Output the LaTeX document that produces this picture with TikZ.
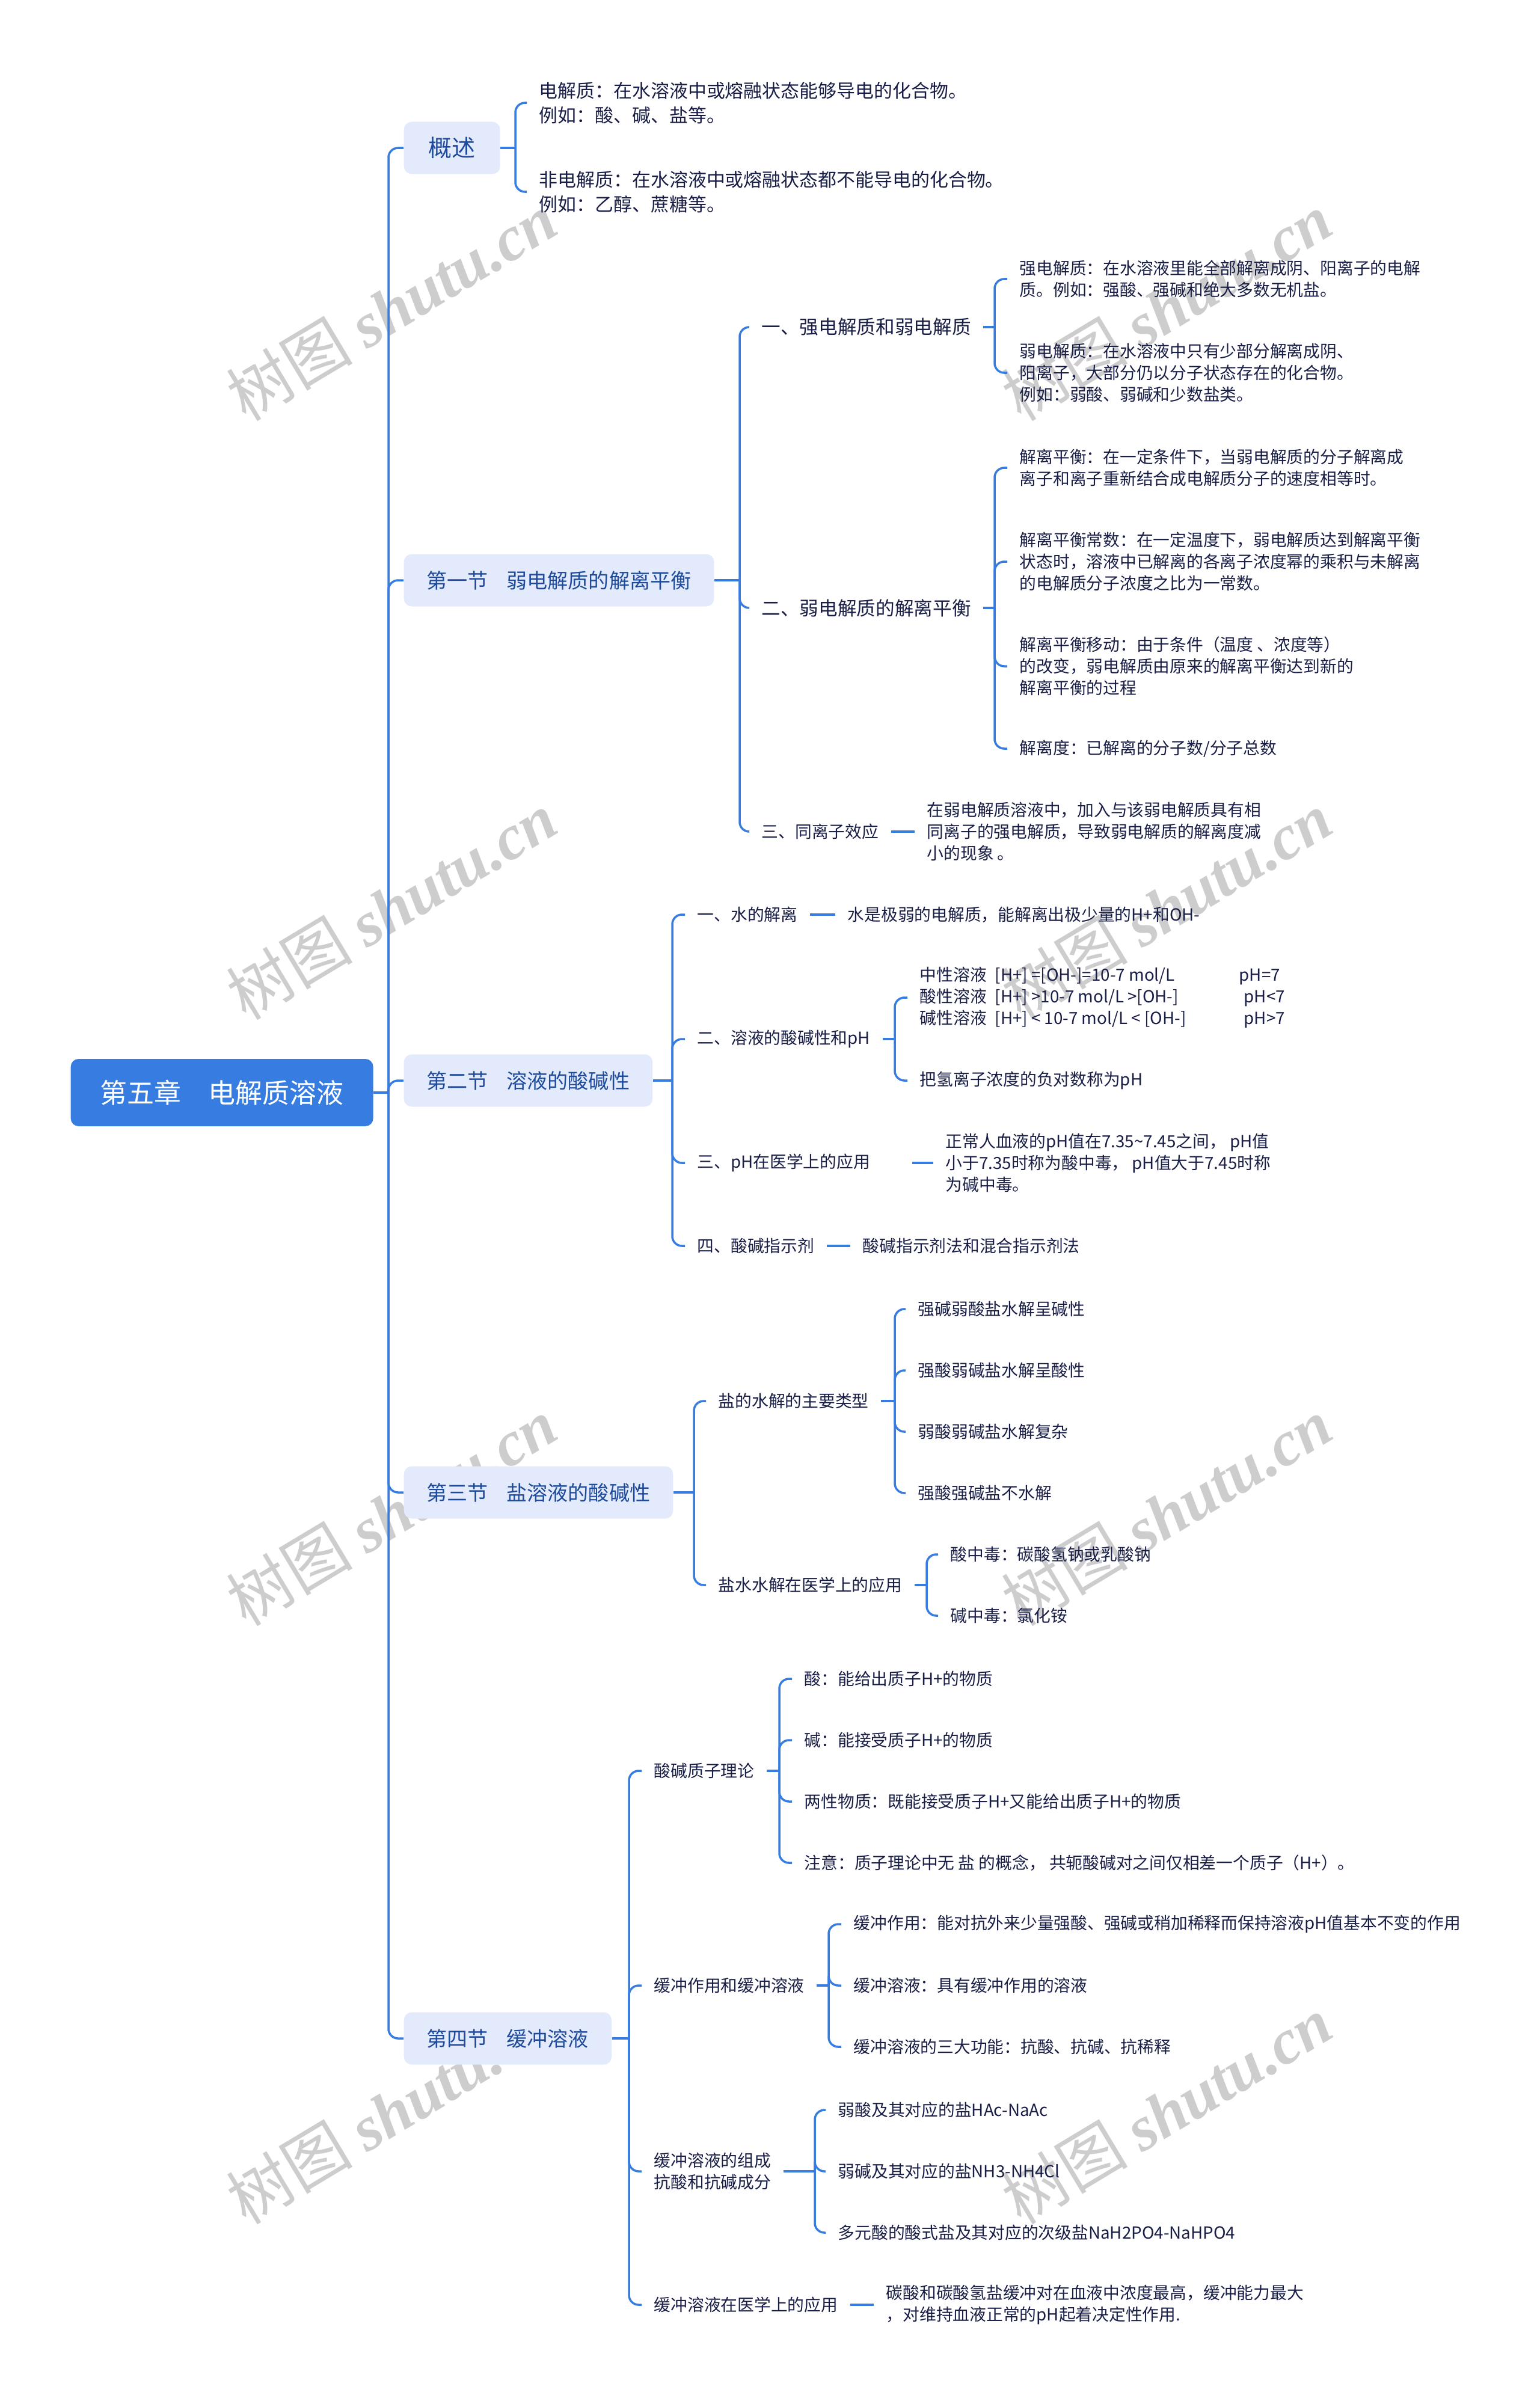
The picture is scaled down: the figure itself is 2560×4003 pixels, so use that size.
\documentclass[tikz,border=0pt]{standalone}
\usepackage{fontspec}
\setmainfont{Noto Sans CJK SC}
\newfontfamily\markfont{Liberation Serif}
\definecolor{lineblue}{RGB}{55,125,225}
\definecolor{rootblue}{RGB}{55,125,225}
\definecolor{sectfill}{RGB}{227,234,251}
\definecolor{secttext}{RGB}{30,75,155}
\definecolor{leaftext}{RGB}{25,30,70}
\definecolor{markgray}{RGB}{205,205,205}

\begin{document}
\begin{tikzpicture}[x=0.1mm,y=-0.1mm]
  \tikzstyle{link}=[draw=lineblue, line width=1pt, rounded corners=1.6mm]
  \tikzstyle{rootbox}=[fill=rootblue, text=white, rounded corners=1.3mm, anchor=west, inner xsep=4.9mm, minimum height=11.2mm, font=\fontsize{12.8}{15}\selectfont]
  \tikzstyle{sect}=[fill=sectfill, text=secttext, rounded corners=1.3mm, anchor=west, inner xsep=3.8mm, minimum height=8.7mm, font=\fontsize{9.7}{12}\selectfont]
  \tikzstyle{leaf}=[anchor=west, inner xsep=2mm, inner ysep=1mm, align=left, text=leaftext, font=\fontsize{7.9}{10.2}\selectfont]
  \tikzstyle{wmark}=[text=markgray, rotate=31, inner sep=0pt, font=\fontsize{30}{30}\selectfont]

  \fill[white] (0,0) rectangle (2560,4003);
  \useasboundingbox (0,0) rectangle (2560,4003);

  % watermark
  \foreach \x in {651,1940}
    \foreach \y in {510,1506,2514,3509}
      \node[wmark] (wm-\x-\y) at (\x,\y) {树图 {\markfont\bfseries\itshape shutu.cn}};

  \node[rootbox] (root) at (117,1817) {第五章\quad 电解质溶液};

  \node[sect, minimum width=16mm, font=\fontsize{11.1}{13}\selectfont] (s0) at (671,246) {概述};
  \node[sect] (s1) at (671,965) {第一节\hspace{0.9em}弱电解质的解离平衡};
  \node[sect] (s2) at (671,1797) {第二节\hspace{0.9em}溶液的酸碱性};
  \node[sect] (s3) at (671,2482) {第三节\hspace{0.9em}盐溶液的酸碱性};
  \node[sect] (s4) at (671,3390) {第四节\hspace{0.9em}缓冲溶液};

  \coordinate (rootj) at (646,1817);
  \draw[link] (root.east) -- (rootj);
  \foreach \s in {s0,s1,s2,s3,s4}
    \draw[link] (rootj) |- (\s.west);

  % 概述
  \node[leaf, font=\fontsize{8.8}{11.7}\selectfont] (l01) at (876,171) {电解质：在水溶液中或熔融状态能够导电的化合物。\\例如：酸、碱、盐等。};
  \node[leaf, font=\fontsize{8.8}{11.7}\selectfont] (l02) at (876,319) {非电解质：在水溶液中或熔融状态都不能导电的化合物。\\例如：乙醇、蔗糖等。};
  \coordinate (s0j) at (857,246);
  \draw[link] (s0.east) -- (s0j);
  \foreach \c in {l01,l02}
    \draw[link] (s0j) |- (\c.west);

  % 第一节
  \node[leaf, font=\fontsize{9}{11}\selectfont] (a1) at (1246,544) {一、强电解质和弱电解质};
  \node[leaf, font=\fontsize{9}{11}\selectfont] (a2) at (1246,1011) {二、弱电解质的解离平衡};
  \node[leaf] (a3) at (1246,1383) {三、同离子效应};
  \coordinate (s1j) at (1230,965);
  \draw[link] (s1.east) -- (s1j);
  \foreach \c in {a1,a2,a3}
    \draw[link] (s1j) |- (\c.west);

  \node[leaf] (a11) at (1675,464) {强电解质：在水溶液里能全部解离成阴、阳离子的电解\\质。例如：强酸、强碱和绝大多数无机盐。};
  \node[leaf] (a12) at (1675,620) {弱电解质：在水溶液中只有少部分解离成阴、\\阳离子，大部分仍以分子状态存在的化合物。\\例如：弱酸、弱碱和少数盐类。};
  \coordinate (a1j) at (1654,544);
  \draw[link] (a1.east) -- (a1j);
  \foreach \c in {a11,a12}
    \draw[link] (a1j) |- (\c.west);

  \node[leaf] (a21) at (1675,778) {解离平衡：在一定条件下，当弱电解质的分子解离成\\离子和离子重新结合成电解质分子的速度相等时。};
  \node[leaf] (a22) at (1675,934) {解离平衡常数：在一定温度下，弱电解质达到解离平衡\\状态时，溶液中已解离的各离子浓度幂的乘积与未解离\\的电解质分子浓度之比为一常数。};
  \node[leaf] (a23) at (1675,1108) {解离平衡移动：由于条件（温度 、浓度等）\\的改变，弱电解质由原来的解离平衡达到新的\\解离平衡的过程};
  \node[leaf] (a24) at (1675,1245) {解离度：已解离的分子数/分子总数};
  \coordinate (a2j) at (1654,1011);
  \draw[link] (a2.east) -- (a2j);
  \foreach \c in {a21,a22,a23,a24}
    \draw[link] (a2j) |- (\c.west);

  \node[leaf] (a31) at (1521,1383) {在弱电解质溶液中，加入与该弱电解质具有相\\同离子的强电解质，导致弱电解质的解离度减\\小的现象 。};
  \draw[link] (a3.east) -- (a31.west);

  % 第二节
  \node[leaf] (b1) at (1139,1521) {一、水的解离};
  \node[leaf] (b2) at (1139,1728) {二、溶液的酸碱性和pH};
  \node[leaf] (b3) at (1139,1934) {三、pH在医学上的应用};
  \node[leaf] (b4) at (1139,2072) {四、酸碱指示剂};
  \coordinate (s2j) at (1118,1797);
  \draw[link] (s2.east) -- (s2j);
  \foreach \c in {b1,b2,b3,b4}
    \draw[link] (s2j) |- (\c.west);

  \node[leaf] (b11) at (1389,1521) {水是极弱的电解质，能解离出极少量的H+和OH-};
  \draw[link] (b1.east) -- (b11.west);

  \node[leaf] (b21) at (1509,1659) {\makebox[53.1mm][l]{中性溶液\hspace{0.5em}[H+] =[OH-]=10-7 mol/L}pH=7\\\makebox[53.9mm][l]{酸性溶液\hspace{0.5em}[H+] >10-7 mol/L >[OH-]}pH<7\\\makebox[53.9mm][l]{碱性溶液\hspace{0.5em}[H+] < 10-7 mol/L < [OH-]}pH>7};
  \node[leaf] (b22) at (1509,1797) {把氢离子浓度的负对数称为pH};
  \coordinate (b2j) at (1488,1728);
  \draw[link] (b2.east) -- (b2j);
  \foreach \c in {b21,b22}
    \draw[link] (b2j) |- (\c.west);

  \node[leaf] (b31) at (1552,1934) {正常人血液的pH值在7.35\textasciitilde 7.45之间， pH值\\小于7.35时称为酸中毒， pH值大于7.45时称\\为碱中毒。};
  \draw[link] ([xshift=4.9mm]b3.east) -- (b31.west);

  \node[leaf] (b41) at (1414,2072) {酸碱指示剂法和混合指示剂法};
  \draw[link] (b4.east) -- (b41.west);

  % 第三节
  \node[leaf] (c1) at (1174,2330) {盐的水解的主要类型};
  \node[leaf] (c2) at (1174,2636) {盐水水解在医学上的应用};
  \coordinate (s3j) at (1154,2482);
  \draw[link] (s3.east) -- (s3j);
  \foreach \c in {c1,c2}
    \draw[link] (s3j) |- (\c.west);

  \node[leaf] (c11) at (1506,2177) {强碱弱酸盐水解呈碱性};
  \node[leaf] (c12) at (1506,2279) {强酸弱碱盐水解呈酸性};
  \node[leaf] (c13) at (1506,2381) {弱酸弱碱盐水解复杂};
  \node[leaf] (c14) at (1506,2483) {强酸强碱盐不水解};
  \coordinate (c1j) at (1488,2330);
  \draw[link] (c1.east) -- (c1j);
  \foreach \c in {c11,c12,c13,c14}
    \draw[link] (c1j) |- (\c.west);

  \node[leaf] (c21) at (1560,2585) {酸中毒：碳酸氢钠或乳酸钠};
  \node[leaf] (c22) at (1560,2687) {碱中毒：氯化铵};
  \coordinate (c2j) at (1541,2636);
  \draw[link] (c2.east) -- (c2j);
  \foreach \c in {c21,c22}
    \draw[link] (c2j) |- (\c.west);

  % 第四节
  \node[leaf] (d1) at (1067,2945) {酸碱质子理论};
  \node[leaf] (d2) at (1067,3302) {缓冲作用和缓冲溶液};
  \node[leaf] (d3) at (1067,3611) {缓冲溶液的组成\\抗酸和抗碱成分};
  \node[leaf] (d4) at (1067,3833) {缓冲溶液在医学上的应用};
  \coordinate (s4j) at (1046,3390);
  \draw[link] (s4.east) -- (s4j);
  \foreach \c in {d1,d2,d3,d4}
    \draw[link] (s4j) |- (\c.west);

  \node[leaf] (d11) at (1317,2792) {酸：能给出质子H+的物质};
  \node[leaf] (d12) at (1317,2894) {碱：能接受质子H+的物质};
  \node[leaf] (d13) at (1317,2996) {两性物质：既能接受质子H+又能给出质子H+的物质};
  \node[leaf] (d14) at (1317,3098) {注意：质子理论中无 盐 的概念， 共轭酸碱对之间仅相差一个质子（H+）。};
  \coordinate (d1j) at (1296,2945);
  \draw[link] (d1.east) -- (d1j);
  \foreach \c in {d11,d12,d13,d14}
    \draw[link] (d1j) |- (\c.west);

  \node[leaf] (d21) at (1399,3200) {缓冲作用：能对抗外来少量强酸、强碱或稍加稀释而保持溶液pH值基本不变的作用};
  \node[leaf] (d22) at (1399,3302) {缓冲溶液：具有缓冲作用的溶液};
  \node[leaf] (d23) at (1399,3404) {缓冲溶液的三大功能：抗酸、抗碱、抗稀释};
  \coordinate (d2j) at (1378,3302);
  \draw[link] (d2.east) -- (d2j);
  \foreach \c in {d21,d22,d23}
    \draw[link] (d2j) |- (\c.west);

  \node[leaf] (d31) at (1373,3509) {弱酸及其对应的盐HAc-NaAc};
  \node[leaf] (d32) at (1373,3611) {弱碱及其对应的盐NH3-NH4Cl};
  \node[leaf] (d33) at (1373,3713) {多元酸的酸式盐及其对应的次级盐NaH2PO4-NaHPO4};
  \coordinate (d3j) at (1355,3611);
  \draw[link] (d3.east) -- (d3j);
  \foreach \c in {d31,d32,d33}
    \draw[link] (d3j) |- (\c.west);

  \node[leaf] (d41) at (1453,3833) {碳酸和碳酸氢盐缓冲对在血液中浓度最高，缓冲能力最大\\，对维持血液正常的pH起着决定性作用.};
  \draw[link] (d4.east) -- (d41.west);
\end{tikzpicture}
\end{document}
